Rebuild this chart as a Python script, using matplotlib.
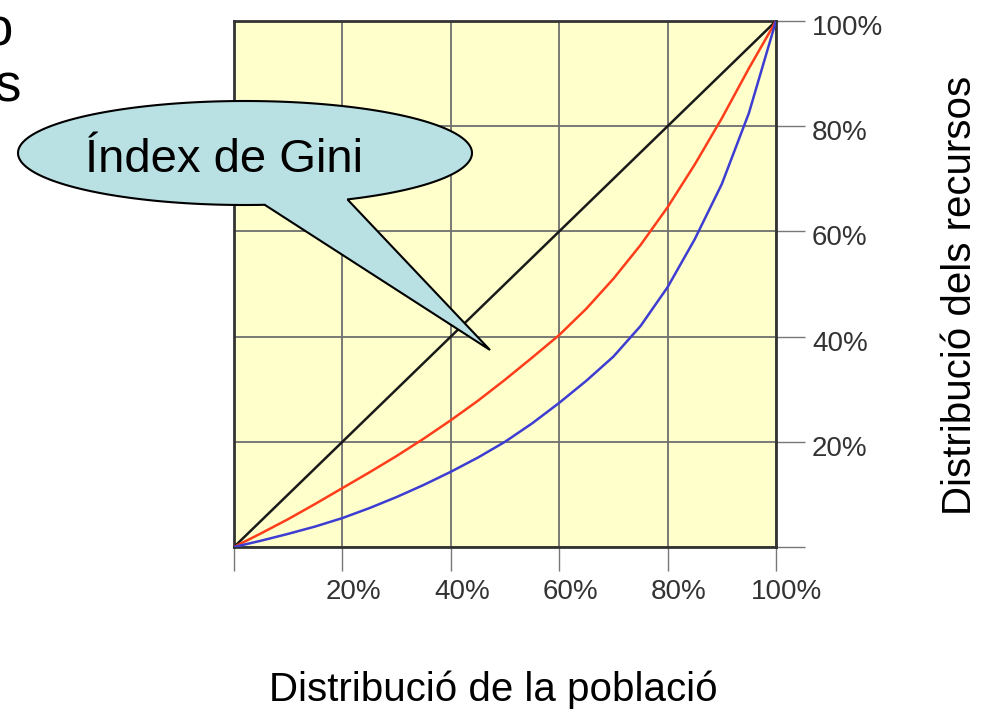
import numpy as np
import matplotlib
matplotlib.use("Agg")
import matplotlib.pyplot as plt
import matplotlib.transforms as mtransforms
from matplotlib.patches import Polygon

plt.rcParams['font.family'] = ['Liberation Sans', 'DejaVu Sans']

# Lorenz curves (share of population -> share of resources)
population = [0.0, 0.05, 0.1, 0.15, 0.2, 0.25, 0.3, 0.35, 0.4, 0.45, 0.5,
              0.55, 0.6, 0.65, 0.7, 0.75, 0.8, 0.85, 0.9, 0.95, 1.0]
equality = [0.0, 1.0]
equality_x = [0.0, 1.0]
lorenz_red = [0.0, 0.026, 0.053, 0.082, 0.112, 0.142, 0.173, 0.206, 0.241, 0.278, 0.318,
              0.360, 0.403, 0.453, 0.510, 0.574, 0.646, 0.727, 0.815, 0.910, 1.0]
lorenz_blue = [0.0, 0.012, 0.025, 0.039, 0.055, 0.074, 0.095, 0.118, 0.143, 0.170, 0.200,
               0.235, 0.274, 0.316, 0.362, 0.420, 0.494, 0.585, 0.690, 0.825, 1.0]

ticks = [0.0, 0.2, 0.4, 0.6, 0.8, 1.0]
tick_labels = ['', '20%', '40%', '60%', '80%', '100%']

W, H = 990, 718
fig = plt.figure(figsize=(W / 100, H / 100), dpi=100)

# main plot area
ax = fig.add_axes([234 / W, (H - 547) / H, 542 / W, 526 / H])
ax.set_facecolor('#ffffcc')
ax.set_xlim(0, 1)
ax.set_ylim(0, 1)

ax.plot(equality_x, equality, color='#1a1a1a', lw=1.8, zorder=3)
ax.plot(population, lorenz_red, color='#ff3d1a', lw=1.8, zorder=3)
ax.plot(population, lorenz_blue, color='#3d3dd2', lw=1.8, zorder=3)

ax.set_xticks(ticks)
ax.set_yticks(ticks)
ax.set_xticklabels(tick_labels)
ax.set_yticklabels(tick_labels)
ax.yaxis.tick_right()
ax.grid(True, color='#707070', lw=1.3, zorder=1)
ax.set_axisbelow(True)
ax.tick_params(axis='x', length=17, width=1, color='#777777', labelsize=20,
               labelcolor='#333333', pad=6)
ax.tick_params(axis='y', length=21, width=1, color='#777777', labelsize=20,
               labelcolor='#333333', pad=5)
for s in ax.spines.values():
    s.set_color('#333333')
    s.set_linewidth(2)

# shift tick labels a bit like the original
off_x = mtransforms.ScaledTranslation(11 / 100, 0, fig.dpi_scale_trans)
for lab in ax.get_xticklabels():
    lab.set_transform(lab.get_transform() + off_x)
off_y = mtransforms.ScaledTranslation(0, -4 / 100, fig.dpi_scale_trans)
for lab in ax.get_yticklabels():
    lab.set_transform(lab.get_transform() + off_y)

# overlay in pixel coordinates for the callout
ov = fig.add_axes([0, 0, 1, 1])
ov.set_xlim(0, W)
ov.set_ylim(H, 0)
ov.axis('off')

cx, cy, a, b = 245, 153, 227, 52
ang = np.radians(np.linspace(63, -275, 200))
ell = np.column_stack([cx + a * np.cos(ang), cy + b * np.sin(ang)])
tail = np.array([[265, 205], [490, 350], [348, 200]])
bubble = Polygon(np.vstack([ell, tail]), closed=True, facecolor='#b9e0e3',
                 edgecolor='black', lw=1.5)
ov.add_patch(bubble)
ov.text(224, 172, 'Índex de Gini', fontsize=34, ha='center', va='baseline')

# clipped text fragments at the left edge (cut off in the original slide too)
fig.text(13 / W, 1 - 45 / H, 'o', fontsize=38, ha='right', va='baseline')
fig.text(21 / W, 1 - 102 / H, 's', fontsize=38, ha='right', va='baseline')

fig.text(493 / W, 1 - 690 / H, 'Distribució de la població', fontsize=29,
         ha='center', va='center')
fig.text(960 / W, 1 - 295 / H, 'Distribució dels recursos', fontsize=29,
         ha='center', va='center', rotation=90)

plt.savefig('out.png', dpi=100)
plt.close()
